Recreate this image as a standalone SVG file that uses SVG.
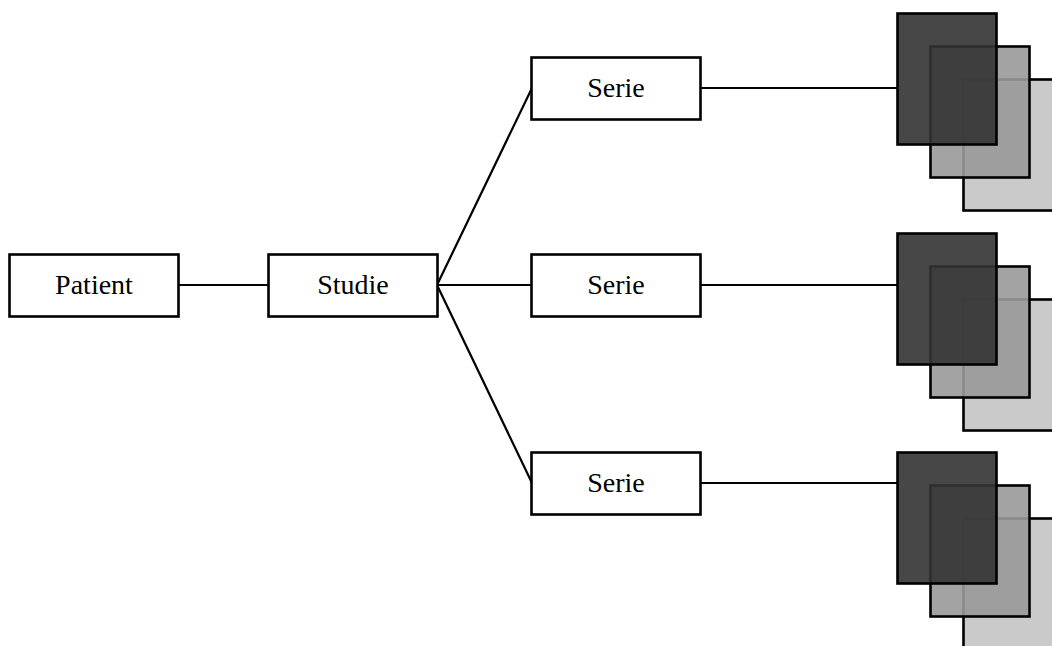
<svg xmlns="http://www.w3.org/2000/svg" width="1052" height="646" viewBox="0 0 1052 646">
<style>
.box{fill:#fff;stroke:#000;stroke-width:2.6}
.lbl{font-family:"Liberation Serif","Times New Roman",serif;font-size:28px;fill:#000;text-anchor:middle}
.con{stroke:#000;stroke-width:2.2;fill:none}
.img{stroke:#000;stroke-width:2.6;fill-opacity:0.9}
.l{fill:#c4c4c4}
.m{fill:#999}
.d{fill:#333}
</style>
<rect width="1052" height="646" fill="#fff"/>
<g id="connectors">
<line class="con" x1="179" y1="285" x2="268" y2="285"/>
<line class="con" x1="437" y1="285" x2="532" y2="88"/>
<line class="con" x1="437" y1="285" x2="532" y2="285"/>
<line class="con" x1="437" y1="285" x2="532" y2="483"/>
<line class="con" x1="700" y1="88" x2="897" y2="88"/>
<line class="con" x1="700" y1="285" x2="897" y2="285"/>
<line class="con" x1="700" y1="483" x2="897" y2="483"/>
</g>
<g id="patient"><rect class="box" x="9.5" y="254.5" width="169" height="62"/><text class="lbl" x="94" y="294">Patient</text></g>
<g id="studie"><rect class="box" x="268.5" y="254.5" width="169" height="62"/><text class="lbl" x="353" y="294">Studie</text></g>
<g id="serie1"><rect class="box" x="531.5" y="57.5" width="169" height="62"/><text class="lbl" x="616" y="97">Serie</text></g>
<g id="serie2"><rect class="box" x="531.5" y="254.5" width="169" height="62"/><text class="lbl" x="616" y="294">Serie</text></g>
<g id="serie3"><rect class="box" x="531.5" y="452.5" width="169" height="62"/><text class="lbl" x="616" y="492">Serie</text></g>
<g id="images1">
<rect class="img l" x="963.5" y="79.5" width="100" height="131"/>
<rect class="img m" x="930.5" y="46.5" width="99" height="131"/>
<rect class="img d" x="897.5" y="13.5" width="99" height="131"/>
</g>
<g id="images2">
<rect class="img l" x="963.5" y="299.5" width="100" height="131"/>
<rect class="img m" x="930.5" y="266.5" width="99" height="131"/>
<rect class="img d" x="897.5" y="233.5" width="99" height="131"/>
</g>
<g id="images3">
<rect class="img l" x="963.5" y="518.5" width="100" height="131"/>
<rect class="img m" x="930.5" y="485.5" width="99" height="131"/>
<rect class="img d" x="897.5" y="452.5" width="99" height="131"/>
</g>
</svg>
